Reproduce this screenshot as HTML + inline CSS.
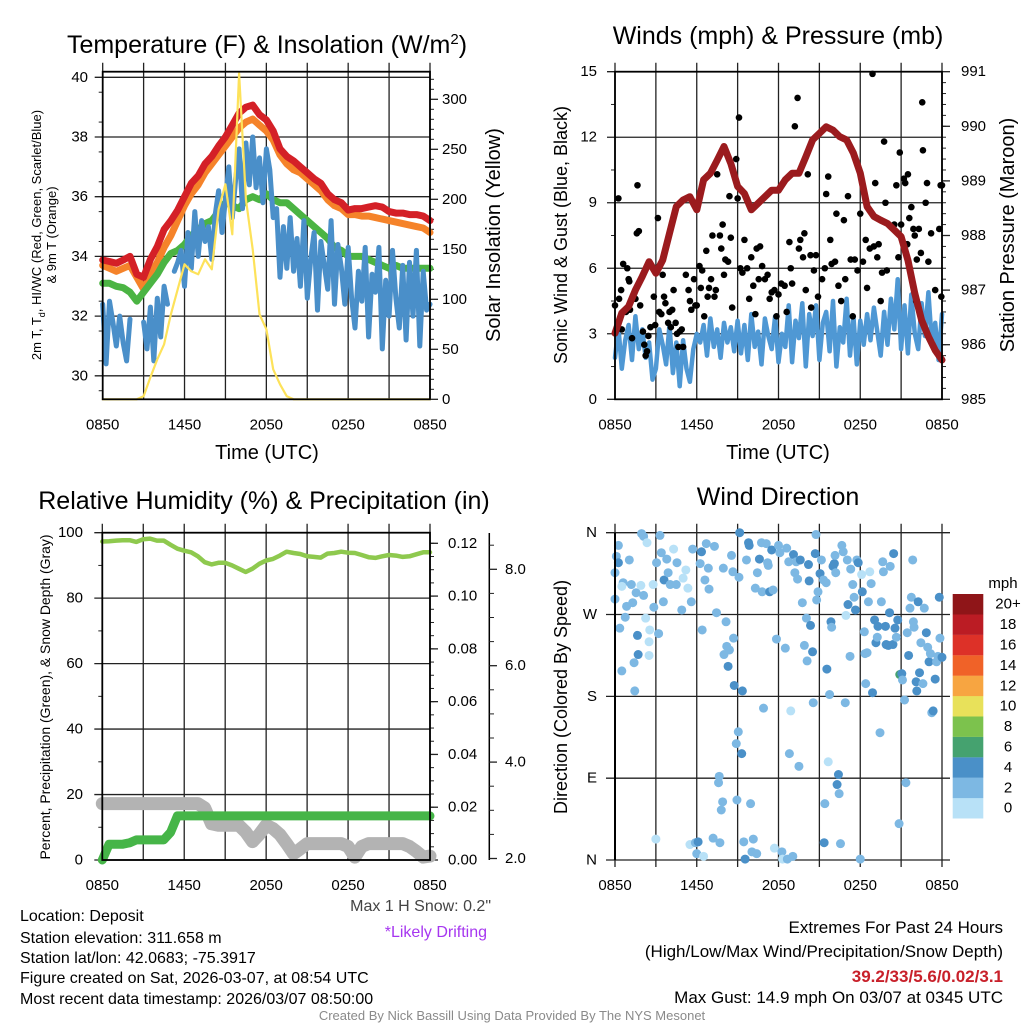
<!DOCTYPE html>
<html><head><meta charset="utf-8"><style>
html,body{margin:0;padding:0;background:#fff;}
svg{display:block;font-family:"Liberation Sans",Arial,sans-serif;}
</style></head><body>
<svg id="chart" width="1024" height="1024" viewBox="0 0 1024 1024" xmlns="http://www.w3.org/2000/svg">
<rect x="0" y="0" width="1024" height="1024" fill="#fff"/>
<text x="267" y="53" font-size="25" text-anchor="middle">Temperature (F) &amp; Insolation (W/m<tspan dy="-9" font-size="15">2</tspan><tspan dy="9">)</tspan></text>
<text x="778" y="44" font-size="25" text-anchor="middle">Winds (mph) &amp; Pressure (mb)</text>
<text x="264" y="509" font-size="25" text-anchor="middle">Relative Humidity (%) &amp; Precipitation (in)</text>
<text x="778" y="505" font-size="25" text-anchor="middle">Wind Direction</text>
<text transform="translate(41,235) rotate(-90)" font-size="13" text-anchor="middle">2m T, T<tspan dy="4" font-size="9">d</tspan><tspan dy="-4">, HI/WC (Red, Green, Scarlet/Blue)</tspan></text>
<text transform="translate(56,235) rotate(-90)" font-size="13" text-anchor="middle">&amp; 9m T (Orange)</text>
<text transform="translate(500,235) rotate(-90)" font-size="20" text-anchor="middle">Solar Insolation (Yellow)</text>
<text x="267" y="459" font-size="20" text-anchor="middle">Time (UTC)</text>
<text transform="translate(567,235) rotate(-90)" font-size="18" text-anchor="middle">Sonic Wind &amp; Gust (Blue, Black)</text>
<text transform="translate(1014,235) rotate(-90)" font-size="20" text-anchor="middle">Station Pressure (Maroon)</text>
<text x="778" y="459" font-size="20" text-anchor="middle">Time (UTC)</text>
<text transform="translate(50,697) rotate(-90)" font-size="14" text-anchor="middle" textLength="325" lengthAdjust="spacingAndGlyphs">Percent, Precipitation (Green), &amp; Snow Depth (Gray)</text>
<text transform="translate(567,697) rotate(-90)" font-size="18" text-anchor="middle">Direction (Colored By Speed)</text>
<text x="1003" y="588" font-size="15" text-anchor="middle">mph</text>
<g font-size="16">
<text x="20" y="921">Location: Deposit</text>
<text x="20" y="943">Station elevation: 311.658 m</text>
<text x="20" y="963">Station lat/lon: 42.0683; -75.3917</text>
<text x="20" y="983">Figure created on Sat, 2026-03-07, at 08:54 UTC</text>
<text x="20" y="1004">Most recent data timestamp: 2026/03/07 08:50:00</text>
</g>
<text x="491" y="911" font-size="16" text-anchor="end" fill="#444">Max 1 H Snow: 0.2"</text>
<text x="487" y="937" font-size="16" text-anchor="end" fill="#a636f0">*Likely Drifting</text>
<g font-size="17" text-anchor="end">
<text x="1003" y="933">Extremes For Past 24 Hours</text>
<text x="1003" y="957">(High/Low/Max Wind/Precipitation/Snow Depth)</text>
<text x="1003" y="982" font-weight="bold" fill="#c8202a">39.2/33/5.6/0.02/3.1</text>
<text x="1003" y="1003">Max Gust: 14.9 mph On 03/07 at 0345 UTC</text>
</g>
<text x="512" y="1020" font-size="13" text-anchor="middle" fill="#8a8a8a">Created By Nick Bassill Using Data Provided By The NYS Mesonet</text>
</svg>
<script>
// ---------- DATA ----------
const xTickLabels = ["0850","1450","2050","0250","0850"];
const tempTicks = [30,32,34,36,38,40];
const solarTicks = [0,50,100,150,200,250,300];
const windTicks = [0,3,6,9,12,15];
const presTicks = [985,986,987,988,989,990,991];
const rhTicks = [0,20,40,60,80,100];
const precipTicks = [0.00,0.02,0.04,0.06,0.08,0.10,0.12];
const snowTicks = [2.0,4.0,6.0,8.0];
const dirTicks = ["N","E","S","W","N"];
const speedBins = ["0","2","4","6","8","10","12","14","16","18","20+"];
const speedColors = ["#b8e1f7","#7db8e3","#4a90c8","#45a26f","#7cc24d","#e8e15a","#f7a541","#f06228","#dd3128","#bb1c24","#8f1518"];

const tempRed = [33.88,33.83,33.77,33.88,34.0,33.4,33.3,33.9,34.33,34.9,35.2,35.55,36.0,36.45,36.7,37.1,37.35,37.7,38.0,38.4,38.8,39.0,39.07,38.75,38.57,38.2,37.6,37.35,37.2,37.0,36.8,36.6,36.45,36.1,35.9,35.8,35.55,35.6,35.6,35.65,35.7,35.65,35.5,35.45,35.45,35.4,35.4,35.35,35.2];
const tempOrange = [33.7,33.6,33.5,33.6,33.7,33.3,32.9,33.4,33.8,34.3,34.7,35.2,35.7,36.1,36.4,36.8,37.1,37.4,37.7,38.0,38.3,38.5,38.6,38.4,38.2,37.9,37.4,37.1,36.9,36.8,36.6,36.4,36.2,35.9,35.7,35.6,35.4,35.4,35.35,35.35,35.3,35.25,35.2,35.15,35.1,35.05,35.0,34.95,34.8];
const tempGreen = [33.1,33.1,33.0,32.95,32.8,32.5,32.8,33.1,33.4,33.8,34.1,34.2,34.4,34.7,34.9,35.1,35.2,35.5,35.8,35.7,35.6,35.9,36.0,35.9,36.1,35.9,35.8,35.8,35.6,35.4,35.2,35.0,34.8,34.6,34.3,34.2,34.0,34.0,34.0,33.9,33.8,33.7,33.6,33.7,33.6,33.6,33.6,33.6,33.6];
const solar = [0,0,0,0,0,0,3,22,40,55,85,110,135,128,125,140,130,190,215,165,326,200,150,85,70,30,15,3,0,0,0,0,0,0,0,0,0,0,0,0,0,0,0,0,0,0,0,0,0];
const tempBlue = [32.4,30.4,32.5,31.8,31.0,32.0,31.1,30.5,31.9,null,31.9,null,31.8,
30.9,32.3,30.5,32.6,31.3,33.0,32.4,null,33.5,33.8,34.2,33.0,
34.8,33.6,35.5,34.0,35.2,34.5,35.0,33.9,35.4,36.2,34.8,35.9,
37.0,35.3,36.6,37.6,35.6,37.8,36.4,38.0,36.3,37.3,35.8,37.6,
36.9,35.3,35.6,33.3,35.0,33.6,35.3,33.5,34.6,33.0,35.2,32.6,
33.9,34.8,32.2,34.5,33.7,32.9,35.2,32.4,34.4,33.6,32.4,34.3,
32.6,31.6,33.5,32.5,34.3,31.3,33.4,32.8,34.3,30.9,33.2,32.0,
34.2,32.6,31.6,33.7,31.2,33.8,32.0,34.2,31.0,33.5,32.2,32.4];
const pressure = [986.21,986.58,986.70,987.0,987.25,987.52,987.31,987.55,988.04,988.53,988.65,988.71,988.47,989.02,989.14,989.38,989.63,989.32,988.9,988.77,988.47,988.59,988.71,988.83,988.83,989.02,989.14,989.14,989.44,989.75,989.87,989.99,989.93,989.81,989.75,989.51,989.14,988.53,988.35,988.28,988.22,988.1,987.98,987.55,986.94,986.45,986.15,985.9,985.72];
const windSpeed = [1.9,3.3,1.4,2.7,3.4,1.8,3.8,2.3,3.2,1.9,2.6,0.9,1.4,
3.2,2.5,1.6,3.4,1.2,2.6,0.6,2.7,1.4,0.8,2.3,3.0,
2.6,3.4,2.0,3.7,2.4,3.2,1.9,3.5,2.6,3.3,2.2,3.6,
2.1,3.4,1.8,3.9,2.4,3.1,1.6,3.7,2.9,2.3,3.8,1.7,
3.0,2.4,4.3,1.7,3.6,2.8,4.4,1.5,3.9,2.9,4.3,1.8,
3.5,4.0,2.2,4.5,1.5,3.3,2.6,4.6,2.0,3.8,1.6,3.6,
2.5,3.9,2.7,4.2,3.1,2.0,4.0,2.5,4.6,3.2,5.5,2.3,
4.3,2.1,4.8,3.0,2.3,4.4,2.9,4.9,2.6,3.5,1.8,3.9];
const gustHours = [0.0,0.25,0.3,0.45,0.5,0.6,0.8,0.9,1.0,1.05,1.1,1.25,1.5,1.6,1.65,1.75,1.85,2.05,2.15,2.25,2.35,2.45,2.6,2.85,2.95,3.15,3.25,3.4,3.5,3.6,3.7,3.9,4.0,4.1,4.2,4.3,4.45,4.55,4.65,4.75,4.9,5.0,5.2,5.4,5.5,5.6,5.8,5.9,6.0,6.2,6.3,6.4,6.55,6.7,6.8,6.9,7.05,7.15,7.3,7.4,7.5,7.7,7.8,7.9,8.0,8.1,8.3,8.4,8.5,8.6,8.9,9.0,9.1,9.2,9.35,9.5,9.7,9.85,10.0,10.15,10.3,10.4,10.55,10.65,10.8,11.0,11.2,11.35,11.5,11.7,11.85,12.0,12.2,12.45,12.6,12.8,12.9,13.0,13.2,13.4,13.5,13.6,13.8,13.9,14.0,14.15,14.35,14.4,14.6,14.75,14.9,15.2,15.4,15.5,15.65,15.8,15.9,16.15,16.25,16.4,16.6,16.8,16.9,17.1,17.3,17.45,17.6,17.8,18.0,18.2,18.4,18.5,18.7,18.9,19.0,19.1,19.25,19.35,19.5,19.6,19.75,19.85,19.95,20.1,20.3,20.5,20.65,20.8,20.9,21.0,21.2,21.3,21.45,21.5,21.6,21.75,21.9,22.0,22.1,22.15,22.3,22.45,22.55,22.6,22.8,22.9,23.0,23.2,23.5,23.8,23.9,23.95,24.0];
const gustVals = [4.3,9.2,4.6,5.0,3.2,6.2,4.0,6.0,5.5,5.4,4.1,2.8,4.6,7.6,9.8,7.7,4.3,3.1,2.5,2.0,2.2,2.9,3.3,4.7,3.4,8.3,4.0,3.9,5.7,4.7,4.4,3.5,4.0,3.3,4.1,5.0,3.5,3.0,2.4,3.1,3.2,2.4,5.7,5.0,4.5,4.1,5.5,4.3,4.3,6.1,5.1,5.9,3.8,6.8,4.7,5.1,5.5,7.5,4.7,5.0,10.3,7.5,6.9,8.0,5.7,6.4,6.3,9.3,7.4,4.2,11.0,9.2,12.9,6.0,5.8,7.3,6.0,4.6,6.5,5.2,3.9,6.9,5.5,7.0,6.1,5.5,5.7,4.6,4.9,5.0,3.8,4.8,5.3,5.2,4.0,7.2,6.0,5.3,12.5,13.8,6.9,7.3,6.5,7.6,5.0,10.3,6.6,4.2,5.9,6.6,4.7,5.5,6.0,9.4,10.2,7.3,6.2,6.3,8.5,5.2,4.5,8.2,5.5,9.3,6.4,3.8,6.4,5.9,8.5,6.3,7.3,5.1,6.9,14.9,7.0,9.9,6.5,7.1,4.5,5.8,11.8,9.0,5.9,8.0,7.9,8.0,9.8,6.5,11.3,8.0,10.1,9.9,7.1,10.3,8.3,8.8,7.8,7.5,4.5,6.4,7.8,6.7,13.6,11.4,9.0,9.9,6.3,7.6,5.0,7.8,9.8,4.7,9.8];
const rh = [97.3,97.4,97.6,97.7,97.7,97.2,98.0,98.2,97.6,97.6,96.3,95.1,94.5,94.0,92.8,91.0,90.3,90.8,90.8,90.0,89.0,88.0,89.0,90.5,91.5,92.0,93.0,94.2,93.8,93.5,92.8,92.6,92.4,93.6,93.8,94.2,93.9,93.8,93.2,92.5,92.3,92.8,93.2,93.0,92.6,92.8,93.4,94.0,94.0];
const precip = [0,0.006,0.006,0.006,0.0065,0.0076,0.0076,0.0076,0.0076,0.0076,0.0105,0.0167,0.0167,0.0167,0.0167,0.0167,0.0167,0.0167,0.0167,0.0167,0.0167,0.0167,0.0167,0.0167,0.0167,0.0167,0.0167,0.0167,0.0167,0.0167,0.0167,0.0167,0.0167,0.0167,0.0167,0.0167,0.0167,0.0167,0.0167,0.0167,0.0167,0.0167,0.0167,0.0167,0.0167,0.0167,0.0167,0.0167,0.0167];
const snowDepth = [3.14,3.14,3.14,3.14,3.14,3.14,3.14,3.14,3.14,3.14,3.14,3.14,3.14,3.14,3.14,3.05,2.72,2.69,2.69,2.69,2.69,2.55,2.35,2.5,2.69,2.62,2.5,2.31,2.1,2.2,2.31,2.31,2.31,2.31,2.31,2.31,2.25,2.03,2.25,2.31,2.31,2.31,2.31,2.31,2.31,2.25,2.15,2.03,2.05];
const dirHours = [0,0.25,0.1,0.25,0,0.6,0.5,0.85,0.75,0.35,0.5,1.05,1.2,1.55,1.3,1.65,1.7,1.4,1.45,1.95,2.1,2.35,1.9,2.1,2.25,2.55,2.5,2.5,2.8,2.85,3.05,3.2,3.0,3.3,3.4,3.6,3.55,3.8,3.9,4.05,4.3,4.5,4.55,4.9,5.0,5.2,5.35,5.6,5.7,5.5,5.9,6.0,6.1,6.35,6.25,6.7,6.6,6.85,6.9,7.3,6.4,6.5,7.2,7.45,7.65,7.6,7.9,7.8,7.7,7.95,8.15,8.2,8.0,8.3,8.4,8.55,8.65,8.7,8.75,8.95,8.9,9.05,9.15,9.1,9.3,9.35,9.45,9.55,9.65,9.8,9.85,9.95,10.05,10.15,10.3,10.4,10.45,10.6,10.75,10.8,10.9,11.1,11.2,11.25,11.35,11.5,11.6,11.7,11.85,12.0,12.1,12.25,12.3,12.5,12.6,12.65,12.75,12.8,12.9,13.1,13.05,13.2,13.3,13.4,13.5,13.6,13.75,13.9,14.05,14.1,14.2,14.25,14.35,14.5,14.55,14.7,14.75,14.8,14.9,15.05,15.15,15.3,15.35,15.4,15.5,15.55,15.65,15.75,15.85,15.9,16.0,16.1,16.15,16.2,16.3,16.4,16.45,16.55,16.65,16.75,16.9,16.95,17.05,17.1,17.25,17.3,17.45,17.55,17.65,17.75,17.85,18.0,18.1,18.15,18.3,18.35,18.4,18.5,18.6,18.7,18.8,18.9,19.05,19.15,19.25,19.3,19.45,19.55,19.65,19.7,19.85,19.9,20.05,20.15,20.2,20.4,20.45,20.55,20.65,20.75,20.85,20.9,21.05,21.1,21.25,21.35,21.45,21.55,21.65,21.75,21.85,21.9,21.95,22.1,22.15,22.25,22.35,22.45,22.6,22.7,22.85,22.95,23.05,23.15,23.25,23.35,23.5,23.6,23.7,23.8,23.85,24.0];
const dirDegs = [316,346,334,327,287,305,301,279,267,255,208,330,303,294,283,247,226,217,186,359,356,349,302,291,266,253,240,225,303,278,327,249,23,357,338,308,284,331,316,303,342,303,327,275,310,319,299,284,342,17,19,7,20,339,326,348,308,321,298,345,253,4,24,272,92,85,64,55,19,321,262,235,226,213,231,335,317,244,192,66,128,141,360,311,117,186,20,1,330,349,346,62,9,23,299,7,316,331,349,295,167,348,327,324,295,341,297,13,243,346,338,9,1,233,343,1,328,117,164,336,4,316,328,309,103,330,283,236,266,219,325,307,258,229,173,337,358,286,295,315,330,308,19,62,305,210,108,182,262,256,323,326,335,316,83,94,73,18,346,339,173,269,330,281,224,320,303,289,275,330,327,1,314,295,251,227,194,228,284,317,304,184,264,239,245,257,140,284,328,317,257,237,236,272,323,237,337,255,245,264,40,204,205,198,176,85,250,225,277,289,330,262,256,196,186,284,206,239,194,277,250,234,218,227,162,164,199,218,224,289,244,223];
const dirSpeeds = [3,3,3,5,3,3,1,3,3,3,3,3,3,3,3,5,5,3,3,3,3,1,1,3,1,1,1,1,1,3,3,3,1,3,3,5,3,3,3,3,1,3,3,3,1,1,1,3,3,1,3,3,5,5,3,3,3,3,3,3,3,1,3,3,3,3,3,3,3,3,3,3,3,5,3,3,3,3,5,3,3,3,5,3,5,5,3,5,3,5,5,3,3,3,3,3,3,5,3,3,3,3,3,3,5,5,3,1,3,3,3,3,1,3,3,3,3,3,1,5,3,3,3,3,3,5,3,3,3,3,5,5,5,5,3,5,3,3,3,5,3,3,5,3,3,5,1,3,5,3,5,5,3,3,5,5,3,3,3,3,3,1,3,5,3,3,3,3,5,3,5,3,1,5,3,3,3,3,3,1,3,5,5,5,3,5,3,3,3,3,5,5,5,5,3,5,5,5,3,5,3,7,5,3,3,3,3,5,3,3,3,3,3,5,5,5,5,3,3,3,5,3,5,3,3,5,5,3,3,5,3,5];

// ---------- GEOMETRY ----------
const NS = 'http://www.w3.org/2000/svg';
const svg = document.getElementById('chart');
function mk(tag, attrs, parent){
  const e = document.createElementNS(NS, tag);
  for (const k in attrs) e.setAttribute(k, attrs[k]);
  (parent || svg).appendChild(e);
  return e;
}
const P1 = {l:102.7, r:430, t:71.7, b:399.3};
const P2 = {l:615, r:942, t:71.7, b:399.3};
const P3 = {l:102.3, r:430, t:532.7, b:860};
const P4 = {l:615, r:942, t:532.7, b:860};
const xOf = (P, h) => P.l + h / 24 * (P.r - P.l);
const tempY = v => 77.3 + (40 - v) * 29.85;
const solarY = v => 399.3 - v * 1.0;
const windY = v => 399.3 - v * (327.6 / 15);
const presY = p => 399.3 - (p - 985) * (327.6 / 6);
const rhY = v => 860 - v * 3.273;
const precipY = v => 860 - v / 0.12 * 316.7;
const snowY = v => 858.5 - (v - 2) * 48.2;
const dirY = d => 860 - d / 360 * 327.3;
const speedColor = s => speedColors[Math.min(10, Math.floor(s / 2))];

function pathFrom(P, vals, step, yf){
  let d = '', pen = false;
  vals.forEach((v, i) => {
    if (v === null) { pen = false; return; }
    const x = xOf(P, i * step), y = yf(v);
    d += (pen ? 'L' : 'M') + x.toFixed(1) + ',' + y.toFixed(1);
    pen = true;
  });
  return d;
}

function frame(P, name, topTicks, botExt){
  const g = mk('g', {});
  
  
  for (let h = 0; h <= 24; h += 3){
    const x = xOf(P, h);
    const ln = mk('line', {x1:x, x2:x, y1:P.t - topTicks, y2:P.b + botExt, stroke:'#222', 'stroke-width':1.3}, g);
    
    
  }
  xTickLabels.forEach((s, i) => {
    const t = mk('text', {x:xOf(P, i * 6), y: P.b + 30, 'font-size':15, 'text-anchor':'middle'}, g);
    t.textContent = s;
    
    
  });
  return g;
}
function box(P, name){
  const r = mk('rect', {x:P.l, y:P.t, width:P.r - P.l, height:P.b - P.t, fill:'none', stroke:'#000', 'stroke-width':1.8});
  
  
}
function hline(P, y, x1, x2, name, w){
  const l = mk('line', {x1:x1, x2:x2, y1:y, y2:y, stroke:'#222', 'stroke-width':w || 1.3});
  
  
}
function label(x, y, s, anchor, name, size){
  const t = mk('text', {x:x, y:y, 'font-size':size || 15, 'text-anchor':anchor, 'dominant-baseline':'central'});
  t.textContent = s;
  
  
}
function series(d, color, w, name){
  const p = mk('path', {d:d, fill:'none', stroke:color, 'stroke-width':w, 'stroke-linecap':'round', 'stroke-linejoin':'round'});
  
  
}

// ---------- PANEL 1 ----------
frame(P1, 'temperature', 9, 0);
tempTicks.forEach(v => { hline(P1, tempY(v), P1.l - 8, P1.r, 'temperature-hgrid'); label(88, tempY(v), String(v), 'end', 'temperature-y-tick-label'); });
for (let v = 29.5; v < 40.2; v += 1) { if (Math.abs(v % 2) > 0.01) hline(P1, tempY(v), P1.l - 4, P1.l, 'temperature-minor-tick', 1); }
solarTicks.forEach(v => { hline(P1, solarY(v), P1.r, P1.r + 8, 'insolation-tick'); label(442, solarY(v), String(v), 'start', 'insolation-y-tick-label'); });
for (let v = 10; v <= 320; v += 10) if (v % 50) hline(P1, solarY(v), P1.r, P1.r + 4, 'insolation-minor-tick', 1);
series(pathFrom(P1, tempOrange, 0.5, tempY), '#f5832a', 7, 'temp-9m-orange-line');
series(pathFrom(P1, tempRed, 0.5, tempY), '#d42027', 7, 'temp-2m-red-line');
series(pathFrom(P1, tempGreen, 0.5, tempY), '#4bb443', 7, 'dewpoint-green-line');
series(pathFrom(P1, tempBlue, 0.25, tempY), '#4a8fc9', 5, 'windchill-blue-line');
series(pathFrom(P1, solar, 0.5, solarY), '#fde25a', 2.2, 'insolation-yellow-line');
box(P1, 'temperature');

// ---------- PANEL 2 ----------
frame(P2, 'wind', 9, 0);
windTicks.forEach(v => { hline(P2, windY(v), P2.l - 8, P2.r, 'wind-hgrid'); label(597, windY(v), String(v), 'end', 'wind-y-tick-label'); });
for (let v = 1.5; v < 15; v += 3) hline(P2, windY(v), P2.l - 4, P2.l, 'wind-minor-tick', 1);
presTicks.forEach(v => { hline(P2, presY(v), P2.r, P2.r + 8, 'pressure-tick'); label(961, presY(v), String(v), 'start', 'pressure-y-tick-label'); });
for (let v = 985.2; v < 991; v += 0.2) hline(P2, presY(v), P2.r, P2.r + 4, 'pressure-minor-tick', 1);
series(pathFrom(P2, windSpeed, 0.25, windY), '#4f98d4', 4.5, 'wind-speed-line');
gustHours.forEach((h, i) => {
  const c = mk('circle', {cx:xOf(P2, h), cy:windY(gustVals[i]), r:3.3, fill:'#000'});
  
  
});
series(pathFrom(P2, pressure, 0.5, presY), '#9b1b1e', 7, 'pressure-line');
box(P2, 'wind');

// ---------- PANEL 3 ----------
frame(P3, 'humidity', 9, 0);
rhTicks.forEach(v => { hline(P3, rhY(v), P3.l - 8, P3.r, 'humidity-hgrid'); label(83, rhY(v), String(v), 'end', 'humidity-y-tick-label'); });
for (let v = 10; v < 100; v += 20) hline(P3, rhY(v), P3.l - 4, P3.l, 'humidity-minor-tick', 1);
precipTicks.forEach(v => { hline(P3, precipY(v), P3.r, P3.r + 8, 'precip-tick'); label(448, precipY(v), v.toFixed(2), 'start', 'precip-y-tick-label'); });
for (let v = 0.005; v < 0.125; v += 0.005) hline(P3, precipY(v), P3.r, P3.r + 4, 'precip-minor-tick', 1);
const sAx = mk('line', {x1:489.3, x2:489.3, y1:533, y2:860, stroke:'#000', 'stroke-width':1.5});


snowTicks.forEach(v => { hline(P3, snowY(v), 489.3, 497, 'snow-tick'); label(505, snowY(v), v.toFixed(1), 'start', 'snow-y-tick-label'); });
for (let v = 2.5; v < 8.6; v += 0.5) if (v % 2) hline(P3, snowY(v), 489.3, 494, 'snow-minor-tick', 1);
series(pathFrom(P3, snowDepth, 0.5, snowY), '#b3b3b3', 13, 'snow-depth-line');
series(pathFrom(P3, precip, 0.5, precipY), '#46b548', 9, 'precip-line');
series(pathFrom(P3, rh, 0.5, rhY), '#8ec94e', 4.5, 'rh-line');
box(P3, 'humidity');

// ---------- PANEL 4 ----------
frame(P4, 'direction', 9, 7);
dirTicks.forEach((s, i) => { hline(P4, dirY(i * 90), P4.l - 9, P4.r + 8, 'direction-hgrid'); label(597, dirY(i * 90), s, 'end', 'direction-y-tick-label'); });
dirHours.forEach((h, i) => {
  const c = mk('circle', {cx:xOf(P4, h), cy:dirY(dirDegs[i]), r:4.5, fill:speedColor(dirSpeeds[i])});
  
  
});
const lx = mk('line', {x1:P4.l, x2:P4.l, y1:P4.t, y2:P4.b, stroke:'#000', 'stroke-width':2});


speedBins.forEach((s, i) => {
  const y = 594 + (10 - i) * 20.4;
  const r = mk('rect', {x:952.7, y:y, width:30.6, height:20.5, fill:speedColors[i]});
  
  
  label(1008, y + 10.2, s, 'middle', 'colorbar-label');
});
</script>
</body></html>
